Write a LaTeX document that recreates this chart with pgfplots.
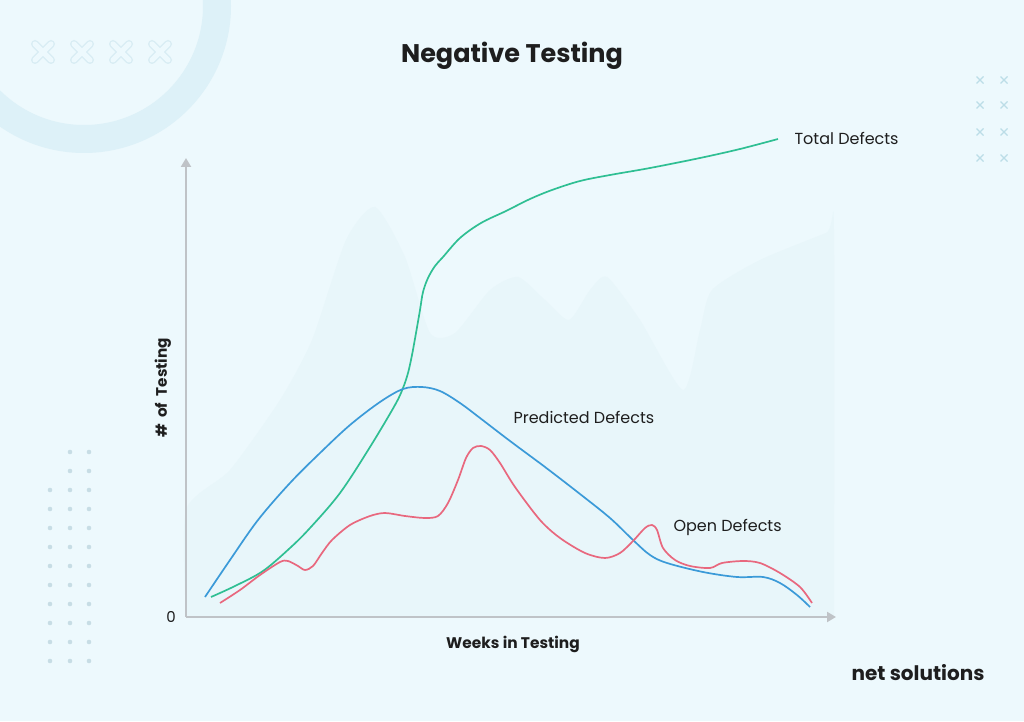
\documentclass[border=0pt]{standalone}
\usepackage{pgfplots}
\pgfplotsset{compat=1.18}
\usepackage{fontspec}
\setmainfont{Poppins}
\usetikzlibrary{arrows.meta}
\definecolor{bg}{HTML}{EDF9FD}
\definecolor{ring}{HTML}{DDF1F8}
\definecolor{mount}{HTML}{E8F6FA}
\definecolor{axgray}{HTML}{BFC3C7}
\definecolor{cgreen}{HTML}{2FBF93}
\definecolor{cblue}{HTML}{3B9AD8}
\definecolor{cred}{HTML}{E8687E}
\definecolor{txt}{HTML}{1E1E1E}
\definecolor{deco}{HTML}{C7DDE5}
\definecolor{xdeco}{HTML}{BCDDE7}
\begin{document}
\begin{tikzpicture}[x=1pt,y=1pt]
\fill[bg] (0,0) rectangle (1024,721);
\useasboundingbox (0,0) rectangle (1024,721);
\begin{scope}[shift={(0,721)},yscale=-1]
  \begin{scope}
    \clip (0,0) rectangle (1024,721);
    \draw[ring, line width=28pt] (84,6) circle (133pt);
  \end{scope}
  \foreach \cx in {43,82,121,160} {
    \draw[draw=ring!80!deco, line width=8pt, line cap=round] (\cx-8,44) -- (\cx+8,60) (\cx-8,60) -- (\cx+8,44);
    \draw[draw=bg, line width=5pt, line cap=round] (\cx-8,44) -- (\cx+8,60) (\cx-8,60) -- (\cx+8,44);
  }
  \foreach \cx in {980,1004} \foreach \cy in {80,105,132,158} {
    \draw[xdeco, line width=1.3pt] (\cx-3.5,\cy-3.5) -- (\cx+3.5,\cy+3.5) (\cx-3.5,\cy+3.5) -- (\cx+3.5,\cy-3.5);
  }
  \foreach \k in {0,...,11} {
    \pgfmathsetmacro{\dy}{452+19*\k}
    \ifnum\k>1 \fill[deco] (50,\dy) circle (2.3pt); \fi
    \fill[deco] (70,\dy) circle (2.3pt);
    \fill[deco] (89,\dy) circle (2.3pt);
  }
\end{scope}

\begin{axis}[
  at={(186,104)}, anchor=origin,
  scale only axis, width=650pt, height=459pt,
  xmin=0, xmax=650, ymin=0, ymax=459,
  axis lines=left,
  axis on top,
  xtick=\empty, ytick=\empty,
  clip=false,
  axis line style={draw=axgray, line width=2pt},
  every outer x axis line/.append style={-{Triangle[width=10pt,length=9pt]}},
  every outer y axis line/.append style={-{Triangle[width=10pt,length=9pt]}},
  x axis line style={-{Triangle[width=10pt,length=9pt]}},
  y axis line style={-{Triangle[width=10pt,length=9pt]}},
]
\addplot[fill=mount, draw=none, smooth, tension=0.4] coordinates {
(0,0)(0,107)(44,147)(94,217)(126,277)(160,377)(189,410)(219,360)(244,284)(269,284)(304,327)(332,340)(359,317)(383,297)(404,327)(421,340)(454,297)(497,227)(514,287)(526,327)(574,357)(640,384)(648,387)(648,0)} -- cycle;

\addplot[cgreen, line width=1.7pt, smooth, tension=0.55] coordinates {
(25,20)(49,31)(77,46)(104,69)(124,89)(154,124)(184,170)(209,212)(217,229)(222,244)(226,262)(230,284)(234,307)(237,325)(242,339)(249,351)(257,360)(274,379)(295,394)(320,406)(344,418)(366,427)(394,436)(424,442)(464,449)(514,459)(554,468)(592,478)};

\addplot[cblue, line width=1.7pt, smooth, tension=0.55] coordinates {
(19,20)(44,57)(72,97)(104,134)(134,164)(164,192)(194,215)(217,228)(236,230)(254,226)(274,214)(294,199)(324,176)(359,150)(394,123)(424,99)(447,77)(464,62)(481,54)(517,45)(551,40)(577,40)(594,34)(611,22)(624,10)};

\addplot[cred, line width=1.7pt, smooth, tension=0.5] coordinates {
(34,14)(54,27)(74,42)(94,55)(102,56)(112,51)(119,47)(127,51)(136,64)(146,77)(164,92)(184,101)(199,104)(219,101)(239,99)(252,101)(262,114)(272,137)(280,159)(287,169)(295,171)(304,167)(314,154)(329,130)(354,97)(374,79)(399,64)(419,59)(434,64)(447,76)(459,89)(466,92)(471,87)(477,69)(489,57)(504,51)(524,49)(536,54)(557,56)(574,54)(594,44)(614,30)(626,14)};
\end{axis}

\node[txt, font=\fontsize{25.5}{30}\selectfont\bfseries] at (512,665) {Negative Testing};
\node[txt, anchor=west, font=\fontsize{16}{19}\selectfont] at (791,583) {Total Defects};
\node[txt, anchor=west, font=\fontsize{16}{19}\selectfont] at (510,304) {Predicted Defects};
\node[txt, anchor=west, font=\fontsize{16}{19}\selectfont] at (670,194) {Open Defects};
\node[txt, font=\fontsize{15.4}{18}\selectfont\bfseries] at (513,77) {Weeks in Testing};
\node[txt, rotate=90, font=\fontsize{15.2}{18}\selectfont\bfseries] at (163,333) {\#\ \ of\ \ Testing};
\node[txt, font=\fontsize{15}{18}\selectfont] at (171,104) {0};
\node[txt, font=\fontsize{20}{24}\selectfont\bfseries] at (918,48) {net solutions};
\end{tikzpicture}
\end{document}
